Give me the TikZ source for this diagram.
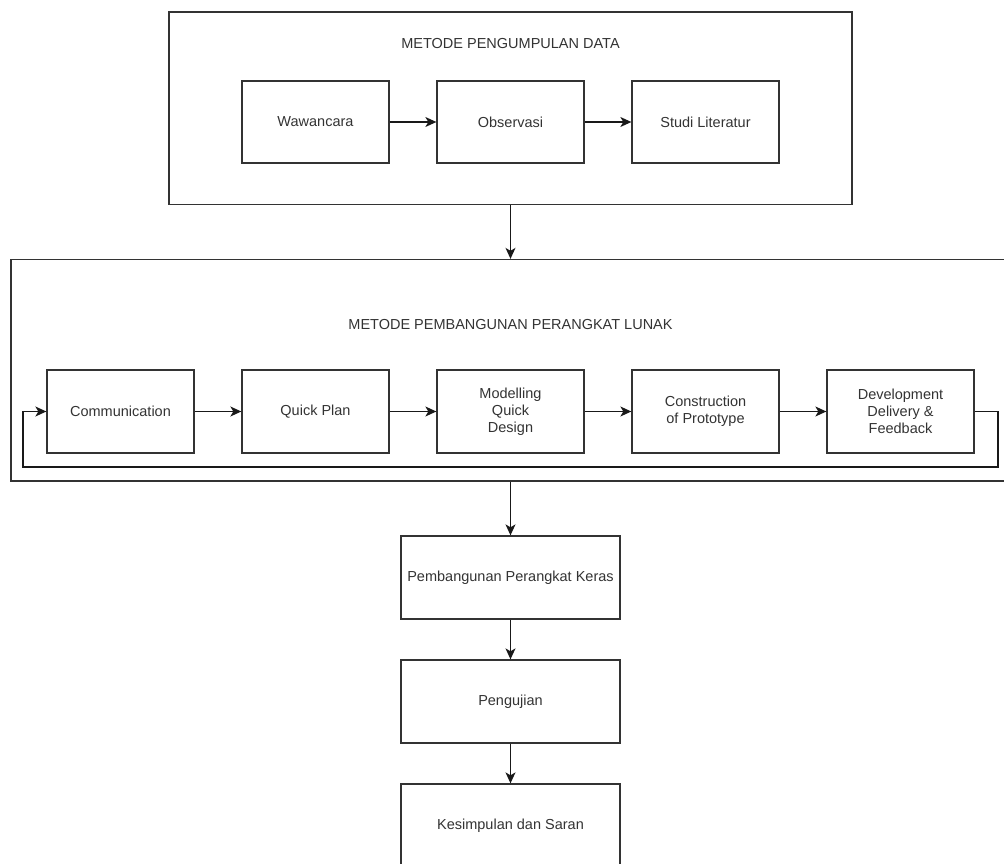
\documentclass[tikz,border=0pt]{standalone}
\usepackage{fontspec}
\setmainfont{Liberation Sans}
\usetikzlibrary{arrows.meta}
\begin{document}
\begin{tikzpicture}[x=1pt,y=-1pt,
  txt/.style={text=black!80, font=\fontsize{14.5}{17}\selectfont, align=center},
  frame/.style={draw=black!80, line width=1.3pt, inner sep=0pt},
  box/.style={frame, txt, minimum width=147pt, minimum height=83pt},
  wbox/.style={frame, txt, minimum width=219pt, minimum height=83pt},
  arr/.style={draw=black!90, line width=1.3pt, -{Stealth[length=11pt,width=10pt,inset=3pt]}},
  ln/.style={draw=black!80, line width=1.3pt}]
\useasboundingbox (0,0) rectangle (1004,864);
% container 1
\node[frame, minimum width=683pt, minimum height=192.5pt] (c1) at (510.5,108.25) {};
\node[txt] (t1) at (510.5,44) {METODE PENGUMPULAN DATA};
\node[box, minimum height=82pt] (w) at (315.5,122) {Wawancara};
\node[box, minimum height=82pt] (o) at (510.5,122) {Observasi};
\node[box, minimum height=82pt] (s) at (705.5,122) {Studi Literatur};
\draw[arr] (w.east) -- (o.west);
\draw[arr] (o.east) -- (s.west);
% container 2
\node[frame, minimum width=994pt, minimum height=221.5pt] (c2) at (508,370.25) {};
\node[txt] (t2) at (510.5,325) {METODE PEMBANGUNAN PERANGKAT LUNAK};
\node[box] (com) at (120.5,411.5) {Communication};
\node[box] (qp) at (315.5,411.5) {Quick Plan};
\node[box] (mod) at (510.5,411.5) {Modelling\\Quick\\Design};
\node[box] (con) at (705.5,411.5) {Construction\\of Prototype};
\node[box] (dev) at (900.5,411.5) {Development\\Delivery \&\\Feedback};
\draw[arr] (com.east) -- (qp.west);
\draw[arr] (qp.east) -- (mod.west);
\draw[arr] (mod.east) -- (con.west);
\draw[arr] (con.east) -- (dev.west);
\coordinate (lr) at (998,467);
\coordinate (ll) at (23,467);
\draw[arr] (dev.east) -| (lr) -- (ll) |- (com.west);
% connection
\draw[arr] (c1.south -| o) -- (c2.north -| o);
% bottom chain
\node[wbox] (p1) at (510.5,577.5) {Pembangunan Perangkat Keras};
\node[wbox] (p2) at (510.5,701.5) {Pengujian};
\node[wbox] (p3) at (510.5,825.5) {Kesimpulan dan Saran};
\draw[arr] (c2.south -| p1) -- (p1.north);
\draw[arr] (p1.south) -- (p2.north);
\draw[arr] (p2.south) -- (p3.north);
\end{tikzpicture}
\end{document}
